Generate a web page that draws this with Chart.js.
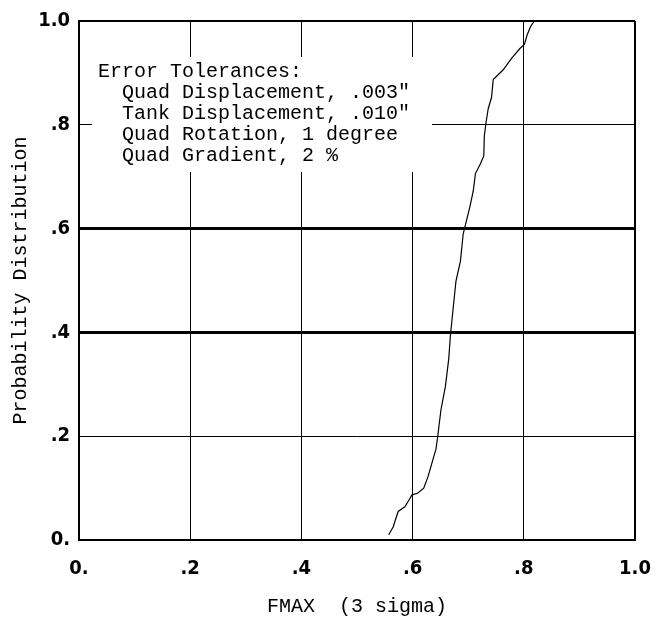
<!DOCTYPE html>
<html>
<head>
<meta charset="utf-8">
<script src="https://cdn.jsdelivr.net/npm/chart.js@4.4.1/dist/chart.umd.min.js"></script>
<style>
  html, body { margin: 0; padding: 0; background: #ffffff; }
  canvas { display: block; }
</style>
</head>
<body>
<canvas id="c" width="671" height="621"></canvas>
<script>
// ---- data ----
const fmaxValues = [0.557,0.565,0.574,0.586,0.593,0.599,0.609,0.620,0.628,0.636,0.642,0.645,0.651,0.659,0.665,0.668,0.673,0.678,0.686,0.691,0.697,0.703,0.709,0.713,0.722,0.728,0.729,0.732,0.736,0.742,0.745,0.763,0.778,0.793,0.801,0.806,0.812,0.819];
const probValues = [0.010,0.025,0.055,0.064,0.076,0.087,0.090,0.100,0.123,0.153,0.175,0.198,0.251,0.296,0.349,0.394,0.447,0.499,0.537,0.590,0.616,0.642,0.672,0.706,0.725,0.740,0.778,0.804,0.831,0.853,0.887,0.906,0.928,0.947,0.955,0.973,0.989,1.000];
const xTickLabels = ['0.', '.2', '.4', '.6', '.8', '1.0'];
const yTickLabels = ['0.', '.2', '.4', '.6', '.8', '1.0'];
const boldYLines = [0.4, 0.6];
const legendLines = ['Error Tolerances:', '  Quad Displacement, .003"', '  Tank Displacement, .010"', '  Quad Rotation, 1 degree', '  Quad Gradient, 2 %'];
const xTitle = 'FMAX  (3 sigma)';
const yTitle = 'Probability Distribution';

const points = fmaxValues.map((x, i) => ({ x: x, y: probValues[i] }));

const MONO = "'Liberation Mono', 'DejaVu Sans Mono', monospace";
const TICKFONT = "'DejaVu Sans Condensed', 'DejaVu Sans Mono', monospace";

const bgPlugin = {
  id: 'bg',
  beforeDraw(chart) {
    const ctx = chart.ctx;
    ctx.save();
    ctx.fillStyle = '#ffffff';
    ctx.fillRect(0, 0, chart.width, chart.height);
    ctx.restore();
  }
};

const notePlugin = {
  id: 'note',
  beforeDatasetsDraw(chart) {
    const ctx = chart.ctx;
    const a = chart.chartArea;
    ctx.save();
    ctx.fillStyle = '#ffffff';
    ctx.fillRect(a.left + 13, a.top + 36, 340, 115);
    ctx.fillStyle = '#000000';
    ctx.font = '20px ' + MONO;
    ctx.textBaseline = 'middle';
    ctx.textAlign = 'left';
    legendLines.forEach((t, i) => {
      ctx.fillText(t, a.left + 19, a.top + 51 + i * 21);
    });
    ctx.restore();
  }
};

new Chart(document.getElementById('c'), {
  type: 'scatter',
  data: {
    datasets: [{
      data: points,
      showLine: true,
      borderColor: '#000000',
      borderWidth: 1.2,
      pointRadius: 0,
      tension: 0,
      fill: false
    }]
  },
  options: {
    responsive: false,
    animation: false,
    devicePixelRatio: 1,
    layout: { padding: { top: 15, right: 36, bottom: 0, left: 0 } },
    plugins: { legend: { display: false }, tooltip: { enabled: false } },
    scales: {
      x: {
        type: 'linear',
        min: 0, max: 1,
        afterFit(s) { s.height = 81; },
        ticks: {
          stepSize: 0.2,
          color: '#000000',
          padding: 17,
          font: { family: TICKFONT, size: 20, weight: 'bold' },
          maxRotation: 0,
          callback: (v, i) => xTickLabels[i]
        },
        grid: {
          color: '#000000',
          drawTicks: false,
          lineWidth: (c) => (c.index === 5 ? 2 : 1)
        },
        border: { display: true, color: '#000000', width: 2 },
        title: {
          display: true,
          text: xTitle,
          color: '#000000',
          font: { family: MONO, size: 20 },
          padding: { top: 0, bottom: 2 }
        }
      },
      y: {
        type: 'linear',
        min: 0, max: 1,
        afterFit(s) { s.width = 79; },
        ticks: {
          stepSize: 0.2,
          color: '#000000',
          padding: 9,
          font: { family: TICKFONT, size: 20, weight: 'bold' },
          callback: (v, i) => yTickLabels[i]
        },
        grid: {
          color: '#000000',
          drawTicks: false,
          lineWidth: (c) => {
            const v = Math.round(c.tick.value * 10) / 10;
            if (boldYLines.includes(v)) return 3;
            if (c.index === 5) return 2;
            return 1;
          }
        },
        border: { display: true, color: '#000000', width: 2 },
        title: {
          display: true,
          text: yTitle,
          color: '#000000',
          font: { family: MONO, size: 20 },
          padding: { top: 9, bottom: 0 }
        }
      }
    }
  },
  plugins: [bgPlugin, notePlugin]
});
</script>
</body>
</html>
